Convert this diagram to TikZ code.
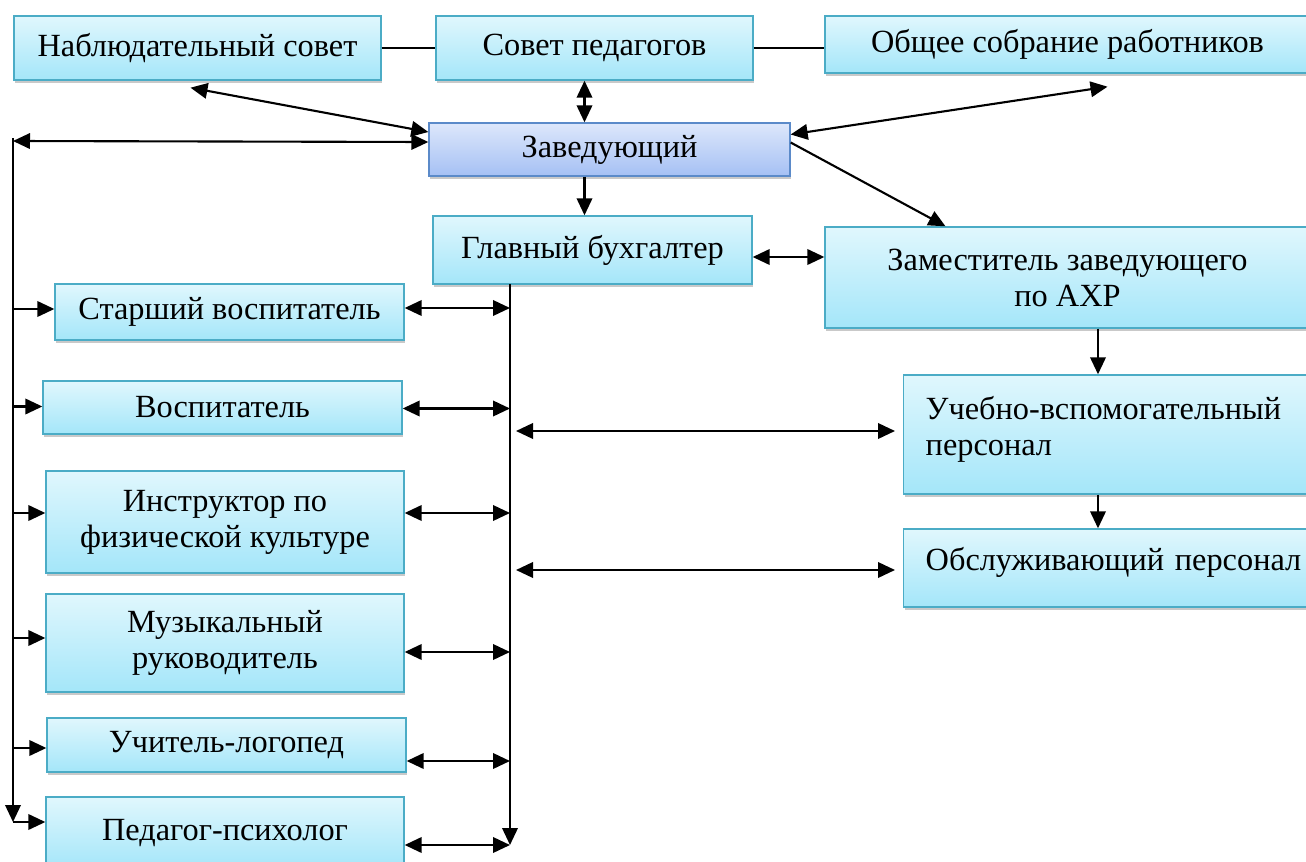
\documentclass[tikz,border=0pt]{standalone}
\usepackage{fontspec}
\setmainfont{Liberation Serif}
\usetikzlibrary{calc,shadows,arrows.meta}

\definecolor{boxtop}{HTML}{E0F7FD}
\definecolor{boxbot}{HTML}{A4E6F9}
\definecolor{boxline}{HTML}{4BACC6}
\definecolor{headtop}{HTML}{DDE7FB}
\definecolor{headbot}{HTML}{A5C0F4}
\definecolor{headline}{HTML}{5B8AC9}

\tikzset{
  box/.style={draw=boxline, line width=0.8pt, top color=boxtop, bottom color=boxbot,
    align=center, inner sep=0pt, font=\fontsize{18.4}{20.5}\selectfont,
    drop shadow={shadow xshift=0.6pt, shadow yshift=-1.8pt, opacity=0.35, fill=black!60}},
  headbox/.style={box, draw=headline, top color=headtop, bottom color=headbot},
  leftbox/.style={box, anchor=west, align=left, text width=7.6cm, inner xsep=0.44cm},
  arr/.style={line width=1.2pt, -{Triangle[length=0.34cm,width=0.31cm]}},
  dbl/.style={line width=1.2pt, {Triangle[length=0.34cm,width=0.31cm]}-{Triangle[length=0.34cm,width=0.31cm]}},
}

\begin{document}
\begin{tikzpicture}[x=0.02cm,y=-0.02cm]
\useasboundingbox (0,0) rectangle (1306,862);
\fill[white] (0,0) rectangle (1306,862);
\clip (0,0) rectangle (1306,862);

% top row
\node[box, minimum width=7.34cm, minimum height=1.28cm] (nabl) at (197.5,48) {Наблюдательный совет};
\node[box, minimum width=6.34cm, minimum height=1.28cm] (sovet) at (594.5,48) {Совет педагогов};
\node[box, minimum width=9.7cm, minimum height=1.14cm] (obshee) at (1067.5,44.5) {Общее собрание работников};
\node[headbox, minimum width=7.22cm, minimum height=1.06cm] (zav) at (609.5,149.5) {Заведующий};
\node[box, minimum width=6.38cm, minimum height=1.36cm] (glav) at (592.5,250) {Главный бухгалтер};
\node[box, minimum width=9.7cm, minimum height=2.02cm] (zam) at (1067.5,277.5) {Заместитель заведующего\\по АХР};
\node[leftbox, minimum height=2.38cm, text depth=1.06cm] (ucheb) at (903,434.5) {Учебно-вспомогательный\\персонал};
\node[leftbox, minimum height=1.56cm, text depth=0.38cm] (obsl) at (903,568) {Обслуживающий персонал};

% staff column
\node[box, minimum width=6.98cm, minimum height=1.12cm] (starsh) at (229.5,312) {Старший воспитатель};
\node[box, minimum width=7.18cm, minimum height=1.06cm] (vosp) at (222.5,407.5) {Воспитатель};
\node[box, minimum width=7.16cm, minimum height=2.04cm] (instr) at (225,522) {Инструктор по\\физической культуре};
\node[box, minimum width=7.16cm, minimum height=1.96cm] (muz) at (225,643) {Музыкальный\\руководитель};
\node[box, minimum width=7.18cm, minimum height=1.08cm] (logo) at (226.5,745) {Учитель-логопед};
\node[box, minimum width=7.16cm, minimum height=1.44cm] (psih) at (225,833) {Педагог-психолог};

\draw[line width=1.2pt] (nabl) -- (sovet);
\draw[line width=1.2pt] (sovet.east) -- (sovet.east -| obshee.west);
\draw[dbl] ($(sovet.south)+(-10,0)$) -- ($(zav.north)+(-25,0)$);
\draw[arr] ($(zav.south)+(-25,0)$) -- ($(glav.north)+(-8,0)$);
\draw[dbl] ($(nabl.south)+(-7,7)$) -- ($(zav.west)+(0,-17.5)$);
\draw[dbl] ($(obshee.south)+(40,13)$) -- ($(zav.east)+(0,-15)$);
\draw[arr] ($(zav.east)+(0,-7)$) -- ($(zam.north)+(-122,0)$);
\draw[dbl] ($(glav.east)+(0,7)$) -- ($(zam.west)+(0,-20.5)$);

\coordinate (zx) at ($(zam.south)+(30.5,0)$);
\draw[arr] (zx) -- (zx |- ucheb.north);
\draw[arr] (zx |- ucheb.south) -- (zx |- obsl.north);

% left trunk
\coordinate (ltop) at (13,141);
\coordinate (lbot) at (13,822);
\draw[arr] ($(ltop)+(0,-3)$) -- (lbot);
\draw[dbl] (ltop) -- ($(zav.west)+(0,-7.5)$);
\foreach \n/\d in {starsh/-3,vosp/-1,instr/-9,muz/-5,logo/3,psih/-11}{
  \path ($(\n.west)+(0,\d)$) coordinate (p);
  \draw[arr] (p -| ltop) -- (p);
}

% right trunk
\coordinate (rtop) at (510,284);
\coordinate (rbot) at (510,845);
\draw[arr] (rtop) -- (rbot);
\foreach \n/\d in {starsh/-4,vosp/1,instr/-9,muz/9,logo/16,psih/12}{
  \path ($(\n.east)+(0,\d)$) coordinate (q);
  \draw[dbl] (q) -- (q -| rtop);
}
\foreach \n/\d in {ucheb/-3.5,obsl/2}{
  \path ($(\n.west)+(0,\d)$) coordinate (q);
  \draw[dbl] ($(q -| rtop)+(6,0)$) -- ($(q)+(-8,0)$);
}
\end{tikzpicture}
\end{document}
